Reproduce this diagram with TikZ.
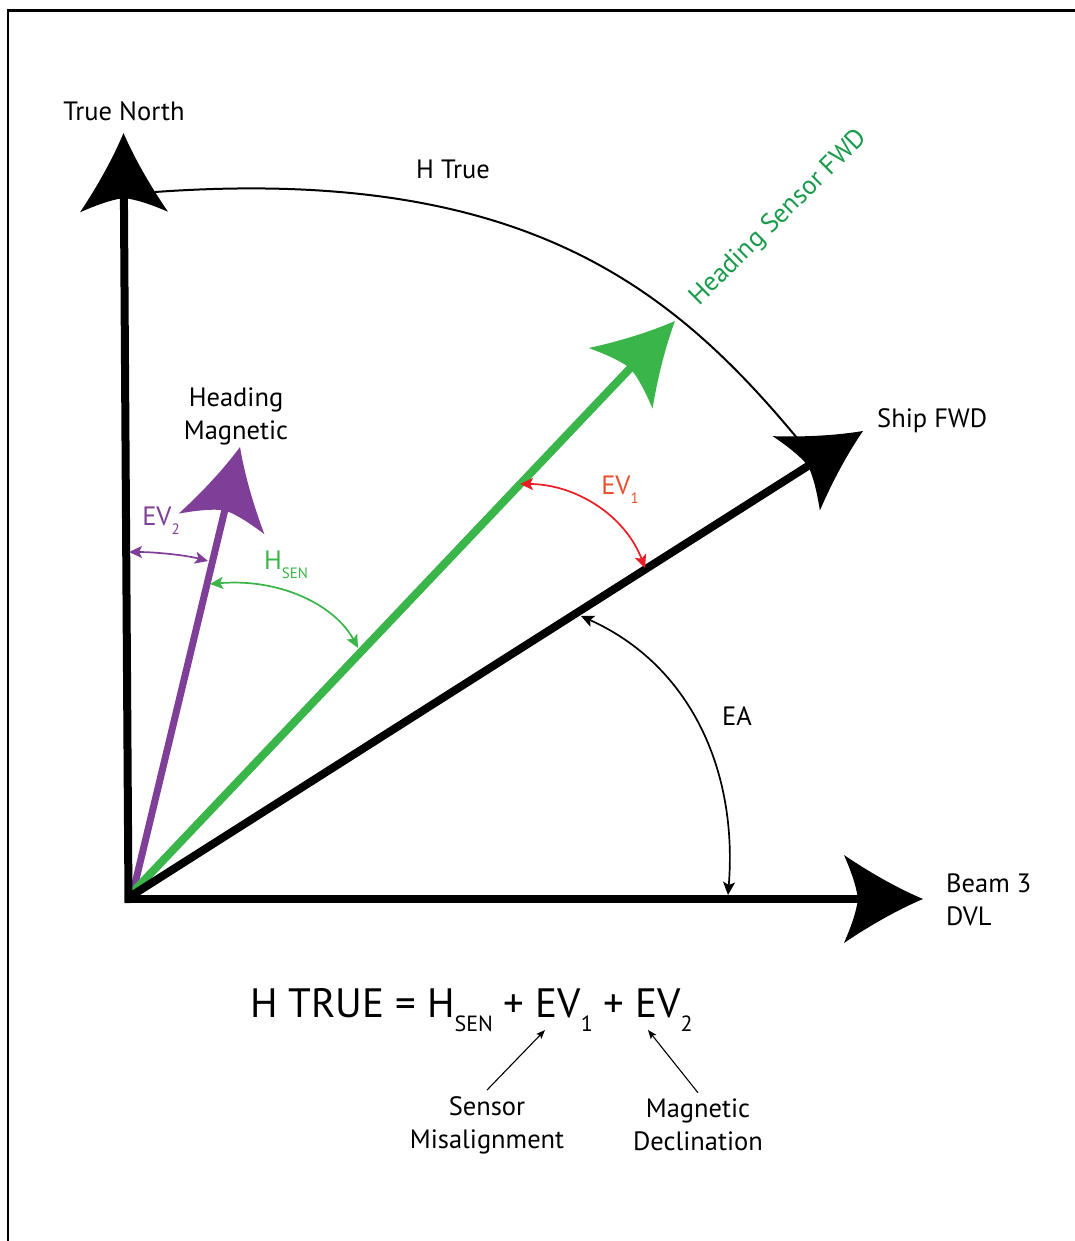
\documentclass[tikz,border=0pt]{standalone}
\usepackage{fontspec}
\setmainfont{PT Sans}
\usetikzlibrary{arrows.meta}
\definecolor{cgreen}{HTML}{39B54A}
\definecolor{cdkgreen}{HTML}{1A9B4B}
\definecolor{cpurple}{HTML}{7F3F98}
\definecolor{cred}{HTML}{ED1C24}
\definecolor{corange}{HTML}{E8502F}
\newcommand\dsub[3]{\raisebox{-#1pt}{\fontsize{#2}{#2}\selectfont #3}}
\tikzset{
  bighead/.pic={
    \fill (0,0) .. controls (-26,11) and (-54,27) .. (-79,44)
          .. controls (-73,30) and (-67,15) .. (-65,0)
          .. controls (-67,-15) and (-73,-30) .. (-79,-44)
          .. controls (-54,-27) and (-26,-11) .. (0,0) -- cycle;
  },
  shaft/.style={line width=8pt, shorten >=60pt},
  arcarrow/.style={line width=1.7pt, {Stealth[length=13pt,width=12pt,inset=3pt]}-{Stealth[length=13pt,width=12pt,inset=3pt]}},
  annot/.style={line width=1.1pt, -{Stealth[length=9pt,width=7pt,inset=2pt]}},
  lbl/.style={font=\fontsize{26.5}{33}\selectfont, inner sep=0pt, align=center},
}
\begin{document}
\begin{tikzpicture}[x=1pt,y=-1pt]
\useasboundingbox (0,0) rectangle (1074,1241);
\fill[white] (0,0) rectangle (1074,1241);
% frame
\draw[line width=2.5pt] (8,1245) -- (8,10.3) -- (1078,10.3);

% coordinates
\coordinate (O) at (131,896);
\coordinate (Og) at (133,892);
\coordinate (vS) at (128.5,903);
\coordinate (hS) at (124.5,899);
\coordinate (tN) at (123.5,133);
\coordinate (tB) at (923,899);
\coordinate (tS) at (863,431);
\coordinate (tG) at (675,321);
\coordinate (tP) at (240,447);

% coloured vectors
\draw[shaft, cpurple, line width=7pt] (Og) -- (tP);
\pic[cpurple, rotate=76.5] at (tP) {bighead};
\draw[shaft, cgreen] (Og) -- (tG);
\pic[cgreen, rotate=46.5] at (tG) {bighead};

% black vectors
\draw[shaft] (O) -- (tS);
\pic[rotate=32.4] at (tS) {bighead};
\draw[shaft] (vS) -- (tN);
\pic[rotate=90.37] at (tN) {bighead};
\draw[shaft] (hS) -- (tB);
\pic at (tB) {bighead};

% H True arc
\coordinate (ht1) at (155,192);
\coordinate (ht2) at (797,438);
\draw[line width=2pt] (ht1) .. controls (520,166) and (670,285) .. (ht2);

% angle arrows
\coordinate (ev2a) at (129,552);
\coordinate (ev2b) at (208,561);
\draw[arcarrow, cpurple] (ev2a) .. controls (155,552) and (185,555) .. (ev2b);
\coordinate (hsa) at (210,584);
\coordinate (hsb) at (358,648);
\draw[arcarrow, cgreen] (hsa) .. controls (280,578) and (335,605) .. (hsb);
\coordinate (ev1a) at (520,484);
\coordinate (ev1b) at (645,568);
\draw[arcarrow, cred] (ev1a) .. controls (575,484) and (625,515) .. (ev1b);
\coordinate (eaa) at (581,616);
\coordinate (eab) at (728,895);
\draw[arcarrow] (eaa) .. controls (690,665) and (738,770) .. (eab);

% labels
\node[lbl] (tn) at (124,111) {True North};
\node[lbl] (htrue) at (453,169) {H True};
\node[lbl, anchor=west] (ship) at (877,421) {Ship FWD};
\node[lbl] (hmag) at (236,416) {Heading\\Magnetic};
\node[lbl, align=left, anchor=west] (beam) at (946,900) {Beam 3\\DVL};
\node[lbl] (ea) at (737,716) {EA};
\node[lbl, text=cpurple] (ev2) at (161,521) {EV\dsub{9}{15}{2}};
\node[lbl, text=cgreen] (hsen) at (286,565) {H\dsub{9}{15}{SEN}};
\node[lbl, text=corange] (ev1) at (620,490) {EV\dsub{9}{15}{1}};
\node[lbl, text=cdkgreen, rotate=44.7] (hsf) at (779,218) {Heading Sensor FWD};

% equation
\node[anchor=base west, inner sep=0pt, font=\fontsize{41}{48}\selectfont] (eq) at (250,1017)
  {H TRUE = H\dsub{14}{22}{SEN} + EV\dsub{14}{22}{1} + EV\dsub{14}{22}{2}};
\node[lbl] (sens) at (487,1125) {Sensor\\Misalignment};
\node[lbl] (magd) at (698,1125) {Magnetic\\Declination};
\coordinate (a1) at (545,1030);
\coordinate (a2) at (648,1030);
\draw[annot] ([yshift=6pt]sens.north) -- (a1);
\draw[annot] ([yshift=6pt]magd.north) -- (a2);
\end{tikzpicture}
\end{document}
